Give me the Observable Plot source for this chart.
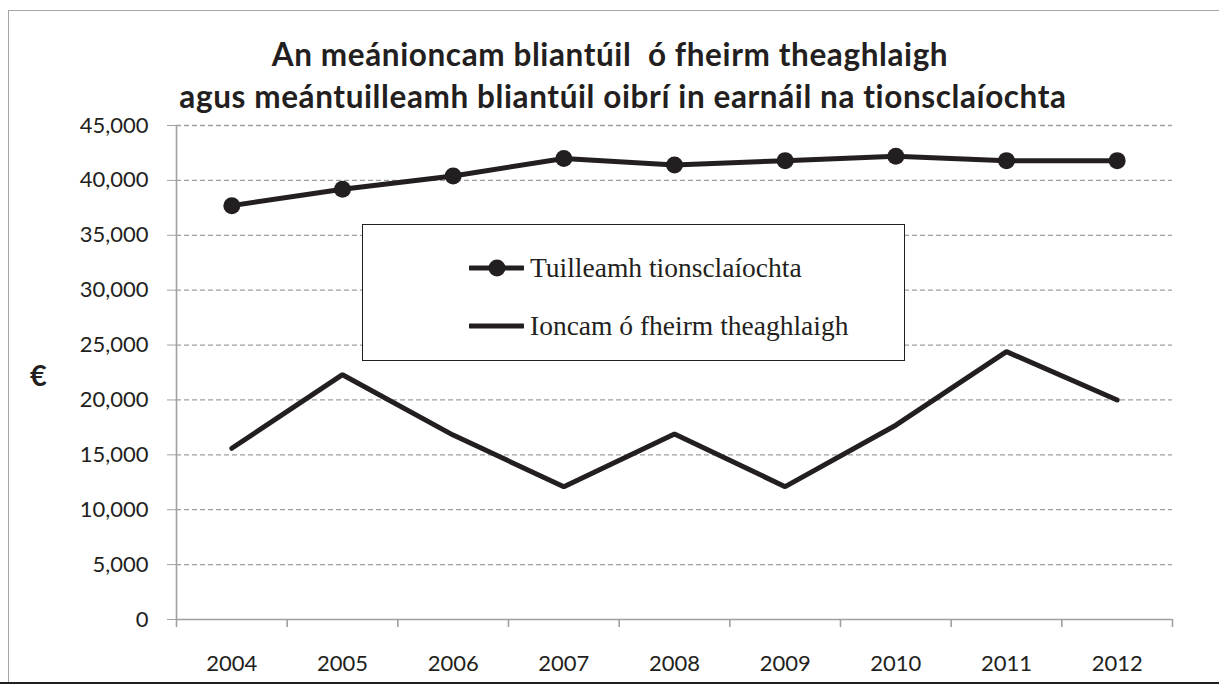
<!DOCTYPE html>
<html>
<head>
<meta charset="utf-8">
<script src="https://cdn.jsdelivr.net/npm/d3@7"></script>
<script src="https://cdn.jsdelivr.net/npm/@observablehq/plot@0.6"></script>
<style>
  html, body { margin: 0; padding: 0; background: #fff; }
  #wrap { position: relative; width: 1219px; height: 689px; overflow: hidden; background: #fff; }
  .abs { position: absolute; }
  #frameTop { left: 8px; top: 10px; width: 1300px; height: 0; border-top: 1.5px solid #a6a6a6; }
  #frameLeft { left: 8px; top: 10px; width: 0; height: 674px; border-left: 1.5px solid #a6a6a6; }
  #frameBottom { left: 0; top: 682px; width: 1300px; height: 0; border-top: 2px solid #231f20; }
  #chart { left: 0; top: 0; }
  .title { font-family: Lato, "Open Sans", sans-serif; font-weight: bold; font-size: 31.5px; line-height: 32px;
           letter-spacing: 0.6px; color: #231f20; white-space: pre; transform: translateX(-50%); }
  #euro { left: 30px; top: 360px; font-family: Lato, sans-serif; font-weight: bold; font-size: 29px; color: #231f20; line-height: 29px; }
  #legend { left: 362px; top: 224px; width: 541px; height: 135px; border: 1.5px solid #231f20; background: #fff; }
  .legrow { position: absolute; left: 106px; height: 30px; display: flex; align-items: center; }
  .legrow span { font-family: "Liberation Serif", "Times New Roman", serif; font-size: 27.5px; color: #231f20; margin-left: 6px; white-space: nowrap; }
</style>
</head>
<body>
<div id="wrap">
  <div id="frameTop" class="abs"></div>
  <div id="frameLeft" class="abs"></div>
  <div id="frameBottom" class="abs"></div>
  <div id="chart" class="abs"></div>
  <div id="title1" class="abs title"></div>
  <div id="title2" class="abs title"></div>
  <div id="euro" class="abs"></div>
  <div id="legend" class="abs"></div>
</div>
<script>
// ---- data ----
const years = [2004, 2005, 2006, 2007, 2008, 2009, 2010, 2011, 2012];
const industrialEarnings = [37700, 39200, 40400, 42000, 41400, 41800, 42200, 41800, 41800];
const farmIncome = [15600, 22300, 16800, 12100, 16900, 12100, 17700, 24400, 20000];
const yTicks = [0, 5000, 10000, 15000, 20000, 25000, 30000, 35000, 40000, 45000];
const seriesNames = ["Tuilleamh tionsclaíochta", "Ioncam ó fheirm theaghlaigh"];
const titleLines = ["An meánioncam bliantúil  ó fheirm theaghlaigh",
                    "agus meántuilleamh bliantúil oibrí in earnáil na tionsclaíochta"];
const yLabel = "€";

const ink = "#231f20";
const axisGray = "#a0a0a0";

const indData = years.map((year, i) => ({year, value: industrialEarnings[i]}));
const farmData = years.map((year, i) => ({year, value: farmIncome[i]}));
const edges = years.map(y => y - 0.5).concat([years[years.length - 1] + 0.5]);

const chart = Plot.plot({
  width: 1219,
  height: 689,
  marginLeft: 176,
  marginRight: 47,
  marginTop: 125,
  marginBottom: 70,
  style: {fontFamily: "Lato, 'Open Sans', sans-serif", fontSize: "22px", color: ink, background: "transparent", overflow: "visible"},
  x: {type: "linear", domain: [edges[0], edges[edges.length - 1]]},
  y: {domain: [0, 45000]},
  marks: [
    Plot.ruleY(yTicks.filter(d => d > 0), {stroke: axisGray, strokeWidth: 1.3, strokeDasharray: "5,3"}),
    Plot.axisY({ticks: yTicks, tickSize: 9, tickPadding: 19, tickFormat: d3.format(","), stroke: axisGray, fill: ink, label: null}),
    Plot.ruleX([edges[0]], {stroke: axisGray, strokeWidth: 1.6}),
    Plot.ruleY([0], {stroke: axisGray, strokeWidth: 1.6}),
    Plot.axisX({ticks: edges, tickSize: 8, tickFormat: () => "", stroke: axisGray, strokeWidth: 1.6, label: null}),
    Plot.axisX({ticks: years, tickSize: 0, tickPadding: 36, tickFormat: d => String(d), fill: ink, label: null}),
    Plot.line(farmData, {x: "year", y: "value", stroke: ink, strokeWidth: 5, strokeLinejoin: "miter", strokeLinecap: "round"}),
    Plot.line(indData, {x: "year", y: "value", stroke: ink, strokeWidth: 5, strokeLinejoin: "round"}),
    Plot.dot(indData, {x: "year", y: "value", r: 8.5, fill: ink, stroke: "none"})
  ]
});
document.getElementById("chart").appendChild(chart);

// title
const t1 = document.getElementById("title1");
t1.textContent = titleLines[0];
t1.style.left = "610px"; t1.style.top = "38px";
const t2 = document.getElementById("title2");
t2.textContent = titleLines[1];
t2.style.left = "623px"; t2.style.top = "80px";

document.getElementById("euro").textContent = yLabel;

// legend
const legend = document.getElementById("legend");
const ns = "http://www.w3.org/2000/svg";
seriesNames.forEach((name, i) => {
  const row = document.createElement("div");
  row.className = "legrow";
  row.style.top = (i === 0 ? 28 : 86) + "px";
  const svg = document.createElementNS(ns, "svg");
  svg.setAttribute("width", 55); svg.setAttribute("height", 30);
  const ln = document.createElementNS(ns, "line");
  ln.setAttribute("x1", 1); ln.setAttribute("x2", 54); ln.setAttribute("y1", 15); ln.setAttribute("y2", 15);
  ln.setAttribute("stroke", ink); ln.setAttribute("stroke-width", 5); ln.setAttribute("stroke-linecap", "round");
  svg.appendChild(ln);
  if (i === 0) {
    const c = document.createElementNS(ns, "circle");
    c.setAttribute("cx", 28); c.setAttribute("cy", 15); c.setAttribute("r", 8.5); c.setAttribute("fill", ink);
    svg.appendChild(c);
  }
  row.appendChild(svg);
  const s = document.createElement("span");
  s.textContent = name;
  row.appendChild(s);
  legend.appendChild(row);
});
</script>
</body>
</html>
